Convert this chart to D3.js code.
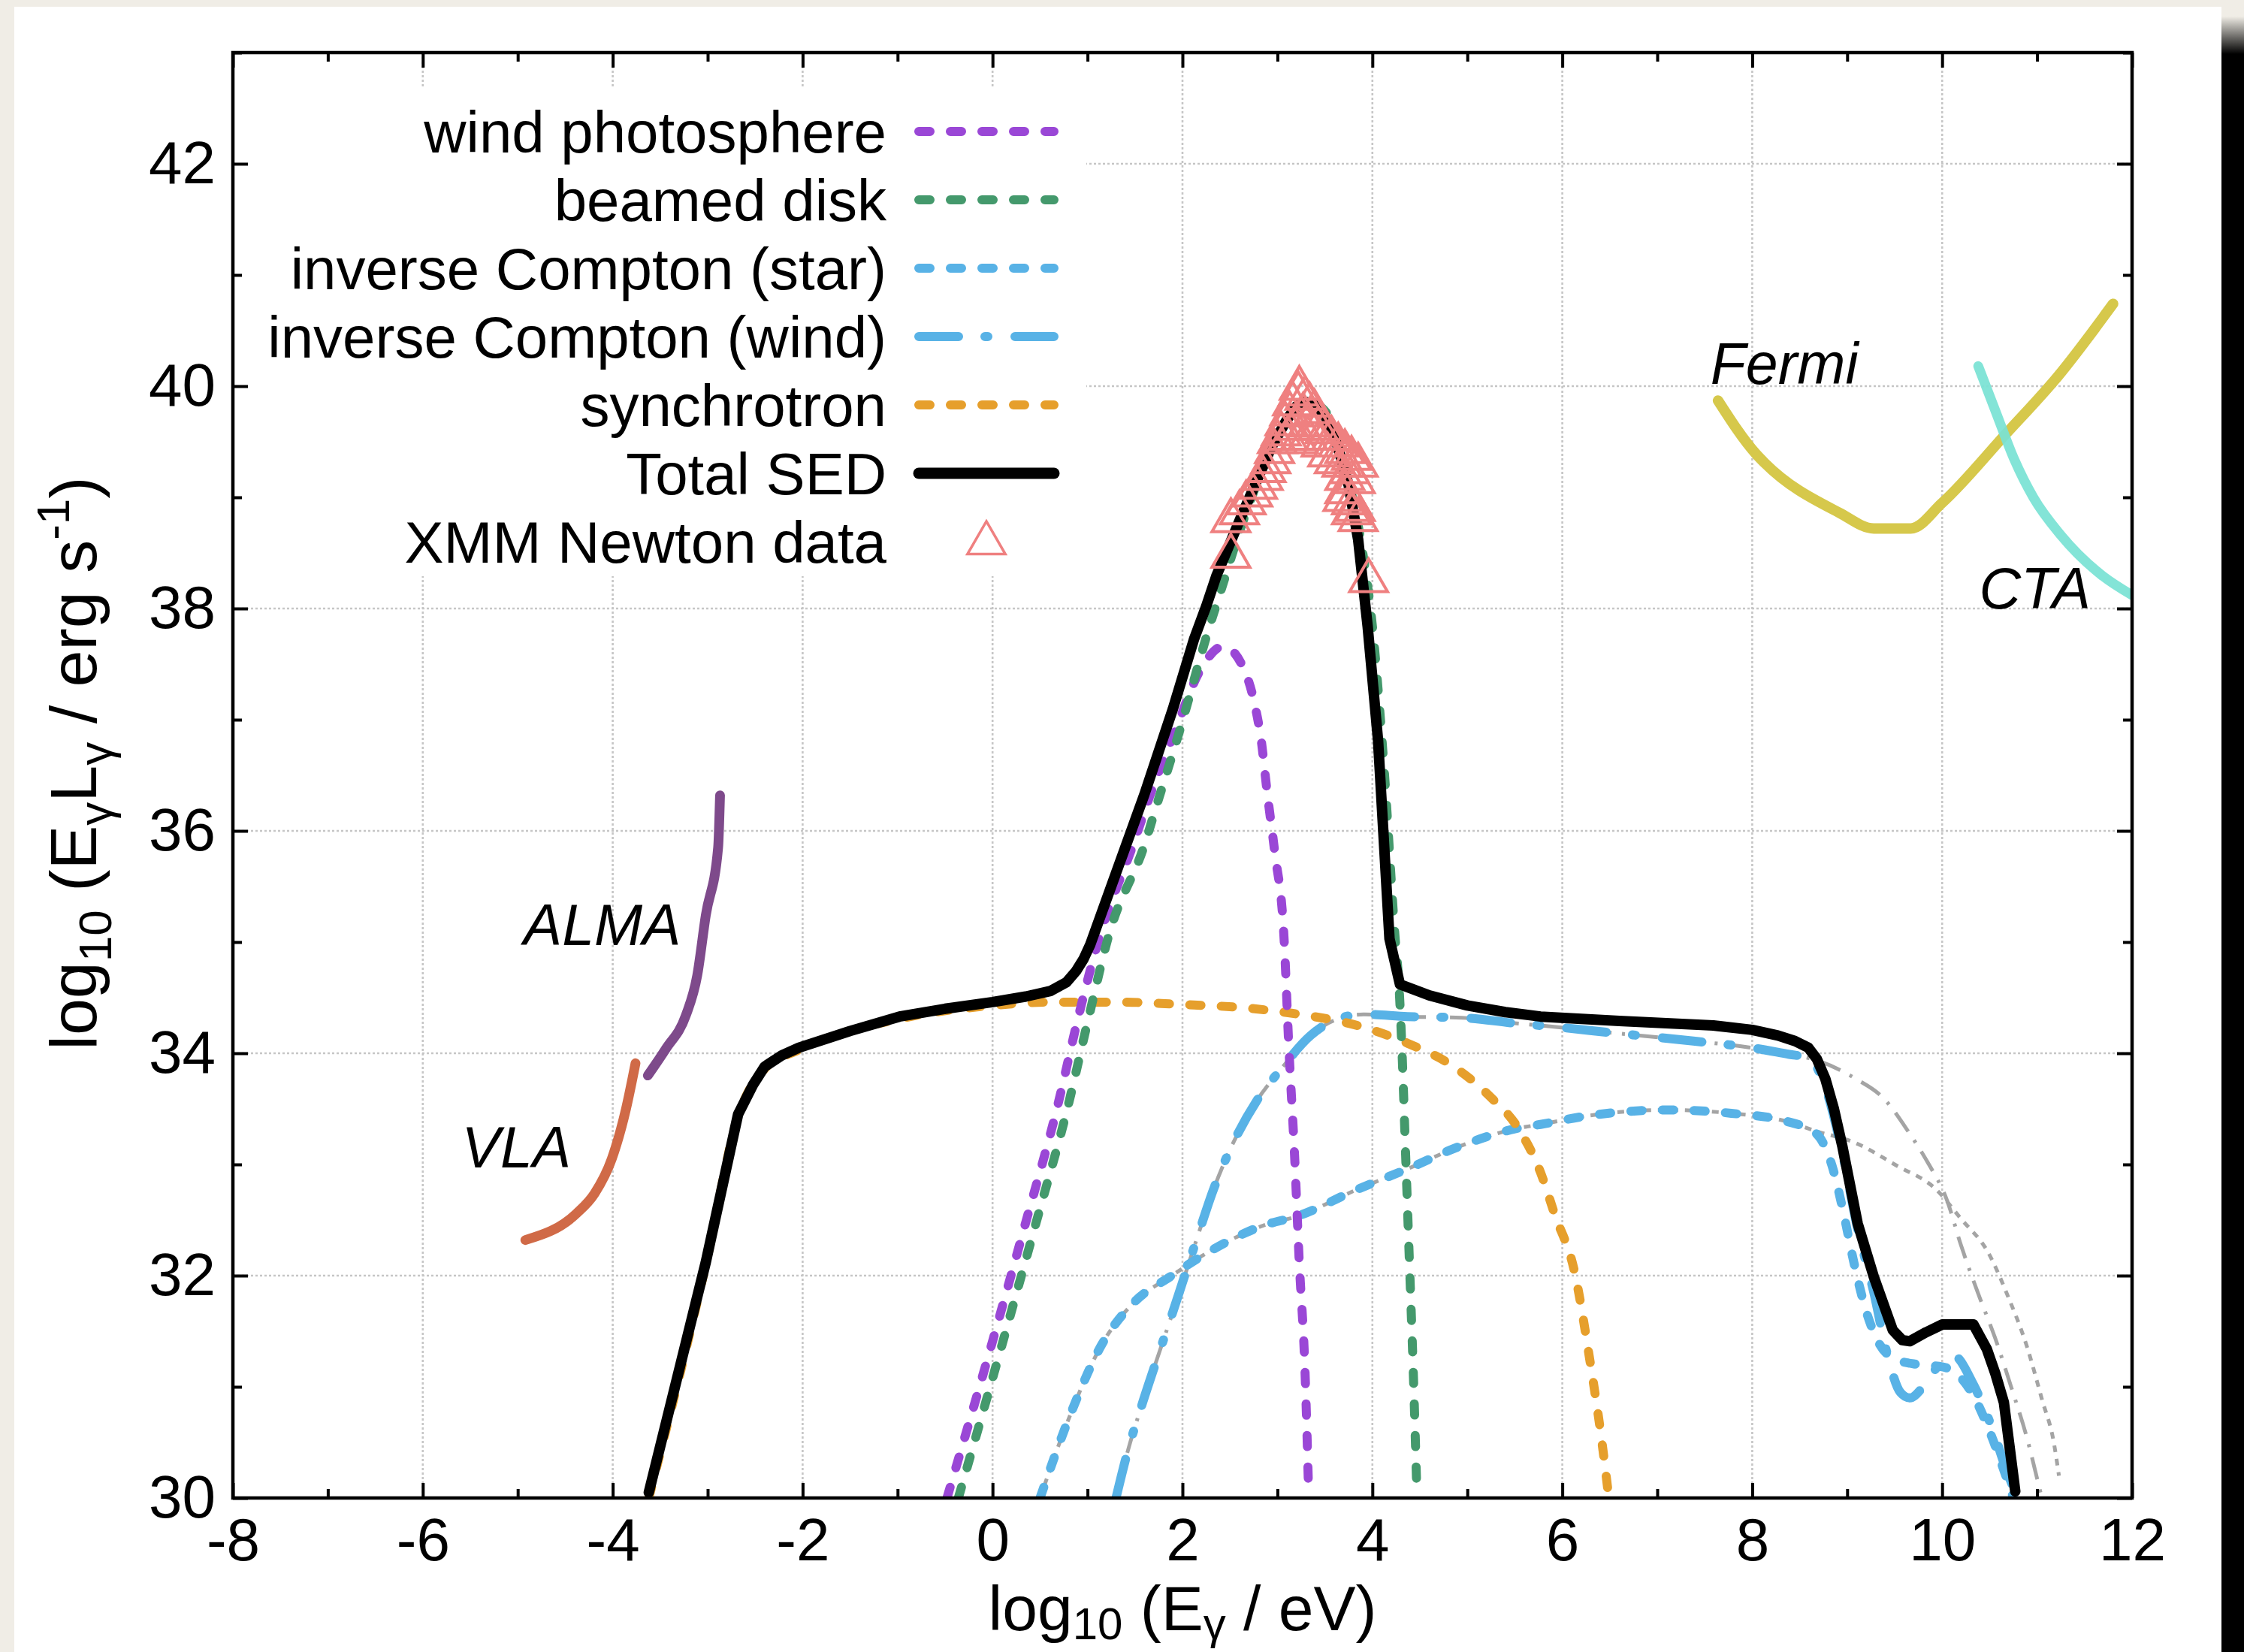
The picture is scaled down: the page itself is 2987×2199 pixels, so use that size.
<!DOCTYPE html>
<html><head><meta charset="utf-8">
<script src="https://cdn.jsdelivr.net/npm/d3@7"></script>
<style>body{margin:0;background:#fff}svg{display:block}</style>
</head><body><svg id="c" width="2987" height="2199"></svg>
<script>
// ---------------- DATA ----------------
const xTicks = [-8,-6,-4,-2,0,2,4,6,8,10,12];
const yTicks = [30,32,34,36,38,40,42];
const xMinor = [-7,-5,-3,-1,1,3,5,7,9,11];
const yMinor = [31,33,35,37,39,41,43];
const xGrid = [-6,-4,-2,0,2,4,6,8,10];
const yGrid = [32,34,36,38,40,42];

const windPhotosphere = [[-0.48,30.0],[0.0,31.41],[0.34,32.45],[0.68,33.51],[0.91,34.35],[1.11,35.0],[1.49,35.90],[1.70,36.42],[1.91,36.87],[2.19,37.45],[2.43,37.66],[2.65,37.45],[2.76,37.14],[2.83,36.81],[2.89,36.36],[2.97,35.82],[3.07,35.03],[3.12,34.06],[3.18,33.09],[3.23,32.12],[3.29,31.15],[3.33,30.0]];
const beamedDisk = [[-0.36,30.0],[0.11,31.41],[0.45,32.45],[0.79,33.51],[1.02,34.35],[1.22,35.05],[1.61,35.90],[1.71,36.18],[1.98,36.93],[2.26,37.77],[2.43,38.23],[2.55,38.56],[2.75,39.05],[3.0,39.55],[3.2,39.8],[3.35,39.85],[3.55,39.72],[3.75,39.15],[3.88,38.6],[4.0,37.84],[4.12,36.6],[4.24,35.03],[4.28,34.61],[4.31,34.06],[4.35,33.09],[4.39,32.12],[4.43,31.15],[4.47,30.0]];
const icStar = [[0.50,30.0],[0.81,30.73],[1.15,31.38],[1.49,31.76],[1.87,31.99],[2.29,32.22],[2.85,32.45],[3.23,32.54],[3.80,32.76],[4.37,32.96],[4.94,33.17],[5.50,33.32],[5.77,33.36],[6.29,33.44],[7.09,33.49],[7.78,33.46],[8.35,33.39],[8.67,33.28],[8.84,32.99],[8.95,32.61],[9.07,32.12],[9.20,31.68],[9.33,31.40],[9.50,31.25],[9.75,31.2],[10.0,31.18],[10.15,31.12],[10.33,30.92],[10.5,30.6],[10.65,30.25],[10.75,30.0]];
const icStarUnabsorbed = [[0.50,30.0],[0.81,30.73],[1.15,31.38],[1.49,31.76],[1.87,31.99],[2.29,32.22],[2.85,32.45],[3.23,32.54],[3.80,32.76],[4.37,32.96],[4.94,33.17],[5.50,33.32],[5.77,33.36],[6.29,33.44],[7.09,33.49],[7.78,33.46],[8.35,33.39],[8.67,33.30],[9.07,33.20],[9.52,32.99],[9.93,32.78],[10.20,32.51],[10.49,32.20],[10.69,31.82],[10.89,31.37],[11.05,30.89],[11.18,30.48],[11.23,30.2]];
const icWind = [[1.30,30.0],[1.42,30.41],[1.57,30.83],[1.72,31.22],[1.87,31.60],[2.02,31.99],[2.17,32.38],[2.32,32.76],[2.51,33.15],[2.78,33.57],[3.04,33.86],[3.35,34.16],[3.61,34.30],[3.91,34.35],[4.37,34.33],[4.94,34.32],[5.50,34.27],[5.77,34.25],[6.57,34.18],[7.38,34.11],[7.99,34.05],[8.39,33.99],[8.59,33.96],[8.76,33.72],[8.95,33.10],[9.11,32.42],[9.28,31.85],[9.42,31.30],[9.56,30.95],[9.66,30.90],[9.80,31.0],[9.97,31.20],[10.12,31.28],[10.33,31.02],[10.53,30.62],[10.69,30.22],[10.80,30.0]];
const icWindUnabsorbed = [[1.30,30.0],[1.42,30.41],[1.57,30.83],[1.72,31.22],[1.87,31.60],[2.02,31.99],[2.17,32.38],[2.32,32.76],[2.51,33.15],[2.78,33.57],[3.04,33.86],[3.35,34.16],[3.61,34.30],[3.91,34.35],[4.37,34.33],[4.94,34.32],[5.50,34.27],[5.77,34.25],[6.57,34.18],[7.38,34.11],[7.99,34.05],[8.39,33.99],[8.67,33.94],[9.07,33.78],[9.40,33.58],[9.64,33.30],[9.84,33.03],[10.05,32.68],[10.20,32.27],[10.37,31.86],[10.57,31.41],[10.73,30.99],[10.89,30.55],[11.01,30.14],[11.05,30.0]];
const synchrotron = [[-3.62,30.0],[-3.02,32.1],[-2.68,33.43],[-2.40,33.86],[-2.04,34.03],[-0.98,34.31],[0.0,34.43],[0.62,34.46],[1.34,34.46],[1.95,34.44],[2.63,34.41],[3.23,34.35],[3.84,34.25],[4.37,34.09],[4.82,33.90],[5.24,33.61],[5.54,33.32],[5.77,32.93],[5.92,32.55],[6.13,32.03],[6.29,31.24],[6.41,30.55],[6.49,30.0]];
const totalSED = [[-3.62,30.05],[-3.02,32.12],[-2.68,33.45],[-2.52,33.72],[-2.40,33.88],[-2.22,33.98],[-2.04,34.05],[-1.5,34.2],[-0.98,34.33],[-0.5,34.40],[0.0,34.46],[0.35,34.51],[0.61,34.56],[0.78,34.64],[0.88,34.74],[0.96,34.85],[1.03,34.98],[1.3,35.62],[1.6,36.33],[1.9,37.10],[2.12,37.72],[2.25,38.02],[2.36,38.30],[2.62,38.83],[2.93,39.44],[3.10,39.70],[3.20,39.82],[3.29,39.86],[3.40,39.83],[3.50,39.74],[3.62,39.50],[3.75,39.11],[3.85,38.62],[3.95,37.84],[4.06,36.81],[4.18,35.03],[4.29,34.62],[4.6,34.52],[5.0,34.43],[5.4,34.37],[5.77,34.33],[6.6,34.29],[7.59,34.25],[8.0,34.21],[8.27,34.16],[8.45,34.11],[8.59,34.05],[8.68,33.95],[8.77,33.77],[8.86,33.50],[8.95,33.16],[9.11,32.47],[9.28,31.99],[9.48,31.51],[9.58,31.42],[9.66,31.41],[9.83,31.49],[10.0,31.56],[10.33,31.56],[10.47,31.34],[10.56,31.12],[10.65,30.86],[10.77,30.06]];
const xmmData = [[2.51,38.47],[2.51,38.79],[2.60,38.86],[2.67,38.95],[2.74,39.02],[2.79,39.09],[2.85,39.17],[2.88,39.24],[2.93,39.32],[2.97,39.41],[3.00,39.50],[3.04,39.57],[3.08,39.66],[3.13,39.75],[3.16,39.84],[3.22,39.93],[3.23,39.98],[3.29,39.89],[3.34,39.83],[3.39,39.77],[3.27,39.74],[3.32,39.65],[3.18,39.62],[3.11,39.53],[3.22,39.50],[3.32,39.53],[3.43,39.62],[3.50,39.59],[3.57,39.53],[3.64,39.47],[3.71,39.41],[3.46,39.47],[3.53,39.38],[3.60,39.32],[3.68,39.29],[3.78,39.35],[3.85,39.29],[3.76,39.23],[3.71,39.17],[3.82,39.14],[3.69,38.98],[3.71,39.05],[3.78,38.95],[3.82,38.89],[3.85,38.80],[3.78,38.86],[3.96,38.25]];
const fermi = [[7.64,39.87],[8.04,39.39],[8.13,39.31],[8.92,38.86],[9.28,38.72],[9.67,38.72],[10.0,38.95],[10.66,39.56],[11.22,40.09],[11.80,40.74]];
const cta = [[10.38,40.18],[10.56,39.78],[10.76,39.34],[10.96,39.0],[11.25,38.66],[11.68,38.30],[12.0,38.12]];
const alma = [[-3.63,33.80],[-3.44,34.04],[-3.23,34.34],[-3.11,34.70],[-3.02,35.24],[-2.89,35.85],[-2.87,36.32]];
const vla = [[-4.92,32.32],[-4.38,32.56],[-4.19,32.74],[-4.01,33.05],[-3.86,33.50],[-3.76,33.91]];
const instrumentLabels = [{text:"Fermi",x:7.56,y:40.02},{text:"CTA",x:10.39,y:38.0},{text:"ALMA",x:-4.94,y:34.97},{text:"VLA",x:-5.59,y:32.97}];
const legendLabels = ["wind photosphere","beamed disk","inverse Compton (star)","inverse Compton (wind)","synchrotron","Total SED","XMM Newton data"];

// ---------------- STYLE / LAYOUT ----------------
const FONT = "'Liberation Sans', Arial, Helvetica, sans-serif";
const C = {purple:"#9a47d6", green:"#44996c", blue:"#58b2e6", orange:"#e69f2c", gray:"#a4a4a4",
           xmm:"#ef8080", fermi:"#d6c84b", cta:"#78e2d4", alma:"#7e4a8b", vla:"#d06a47"};
const DOT = "15 27", DASHDOT = "53 35 4 36";

const svg = d3.select("#c");
const x = d3.scaleLinear().domain([-8,12]).range([310,2838]);
const y = d3.scaleLinear().domain([30,43]).range([1994,70]);

// page frame
const defs = svg.append("defs");
const g1 = defs.append("linearGradient").attr("id","barg").attr("x1",0).attr("y1",0).attr("x2",0).attr("y2",1);
g1.append("stop").attr("offset","0%").attr("stop-color","#efece5");
g1.append("stop").attr("offset","100%").attr("stop-color","#000");
defs.append("clipPath").attr("id","plotclip").append("rect")
  .attr("x",x(-8)).attr("y",y(43)).attr("width",x(12)-x(-8)).attr("height",y(30)-y(43));
svg.append("rect").attr("width",2987).attr("height",2199).attr("fill","#f0ede6");
svg.append("rect").attr("x",19).attr("y",9).attr("width",2938).attr("height",2190).attr("fill","#fff");
svg.append("rect").attr("x",2957).attr("y",22).attr("width",30).attr("height",50).attr("fill","url(#barg)");
svg.append("rect").attr("x",2957).attr("y",72).attr("width",30).attr("height",2127).attr("fill","#000");

// grid
const grid = svg.append("g").attr("stroke","#c6c6c6").attr("stroke-width",2.6).attr("stroke-dasharray","3 3");
grid.selectAll("line.gx").data(xGrid).join("line").attr("class","gx")
  .attr("x1",d=>x(d)).attr("x2",d=>x(d)).attr("y1",y(43)).attr("y2",y(30));
grid.selectAll("line.gy").data(yGrid).join("line").attr("class","gy")
  .attr("y1",d=>y(d)).attr("y2",d=>y(d)).attr("x1",x(-8)).attr("x2",x(12));

// opaque key box
svg.append("rect").attr("x",313).attr("y",118).attr("width",1133).attr("height",649).attr("fill","#fff");

// curves
const line = d3.line().x(d=>x(d[0])).y(d=>y(d[1])).curve(d3.curveMonotoneX);
const lineLin = d3.line().x(d=>x(d[0])).y(d=>y(d[1]));
const plot = svg.append("g").attr("clip-path","url(#plotclip)");
function curve(data, color, width, dash, cap, gen){
  plot.append("path").datum(data).attr("d",gen||line).attr("fill","none")
    .attr("stroke",color).attr("stroke-width",width)
    .attr("stroke-dasharray",dash||null).attr("stroke-linecap",cap||"round").attr("stroke-linejoin","round");
}
curve(icWindUnabsorbed, C.gray, 5, "30 14 4 14", "butt");
curve(icStarUnabsorbed, C.gray, 5, "9 9", "butt");
curve(icStar, C.blue, 12, DOT);
curve(icWind, C.blue, 12, DASHDOT);
curve(synchrotron, C.orange, 12, DOT);
curve(windPhotosphere, C.purple, 12, DOT);
curve(beamedDisk, C.green, 12, DOT);
curve(totalSED, "#000", 14, null, "round", lineLin);
curve(fermi, C.fermi, 14, null);
plot.append("path").datum(cta).attr("d",line).attr("fill","none").attr("stroke",C.cta)
  .attr("stroke-width",13).attr("stroke-linecap","round").attr("opacity",0.92);
curve(alma, C.alma, 13, null);
curve(vla, C.vla, 13, null);

const tri = d3.symbol().type(d3.symbolTriangle).size(1100);
plot.append("g").selectAll("path").data(xmmData).join("path")
  .attr("d",tri).attr("transform",d=>`translate(${x(d[0])},${y(d[1])})`)
  .attr("fill","none").attr("stroke",C.xmm).attr("stroke-width",4);

// instrument labels
svg.append("g").selectAll("text").data(instrumentLabels).join("text")
  .attr("x",d=>x(d.x)).attr("y",d=>y(d.y)).text(d=>d.text)
  .attr("font-family",FONT).attr("font-size",77).attr("font-style","italic").attr("fill","#000");

// axes
function styleAxis(g){ g.select(".domain").remove(); g.selectAll("line").attr("stroke","#000").attr("stroke-width",4);
  g.attr("font-family",FONT).attr("font-size",80); g.selectAll("text").attr("fill","#000"); }
const fmt = d=>String(d);
svg.append("g").attr("transform",`translate(0,${y(30)})`).call(d3.axisBottom(x).tickValues(xTicks).tickSize(-20).tickPadding(26).tickFormat(fmt)).call(styleAxis);
svg.append("g").attr("transform",`translate(0,${y(30)})`).call(d3.axisBottom(x).tickValues(xMinor).tickSize(-12).tickFormat("")).call(styleAxis);
svg.append("g").attr("transform",`translate(0,${y(43)})`).call(d3.axisTop(x).tickValues(xTicks).tickSize(-20).tickFormat("")).call(styleAxis);
svg.append("g").attr("transform",`translate(0,${y(43)})`).call(d3.axisTop(x).tickValues(xMinor).tickSize(-12).tickFormat("")).call(styleAxis);
svg.append("g").attr("transform",`translate(${x(-8)},0)`).call(d3.axisLeft(y).tickValues(yTicks).tickSize(-20).tickPadding(23).tickFormat(fmt)).call(styleAxis);
svg.append("g").attr("transform",`translate(${x(-8)},0)`).call(d3.axisLeft(y).tickValues(yMinor).tickSize(-12).tickFormat("")).call(styleAxis);
svg.append("g").attr("transform",`translate(${x(12)},0)`).call(d3.axisRight(y).tickValues(yTicks).tickSize(-20).tickFormat("")).call(styleAxis);
svg.append("g").attr("transform",`translate(${x(12)},0)`).call(d3.axisRight(y).tickValues(yMinor).tickSize(-12).tickFormat("")).call(styleAxis);
svg.append("rect").attr("x",x(-8)).attr("y",y(43)).attr("width",x(12)-x(-8)).attr("height",y(30)-y(43))
  .attr("fill","none").attr("stroke","#000").attr("stroke-width",4.5);

// legend
const legStyles = [
  {color:C.purple,w:12,dash:DOT},{color:C.green,w:12,dash:DOT},{color:C.blue,w:12,dash:DOT},
  {color:C.blue,w:12,dash:DASHDOT},{color:C.orange,w:12,dash:DOT},{color:"#000",w:15,dash:null},{tri:true}];
const leg = svg.append("g");
legendLabels.forEach((lab,i)=>{
  const cy = 175 + i*91;
  leg.append("text").attr("x",1180).attr("y",cy+28).attr("text-anchor","end")
    .attr("font-family",FONT).attr("font-size",78).attr("fill","#000").text(lab);
  const s = legStyles[i];
  if (s.tri) {
    leg.append("path").attr("d",tri).attr("transform",`translate(1313,${cy+2})`)
      .attr("fill","none").attr("stroke",C.xmm).attr("stroke-width",3.5);
  } else {
    leg.append("line").attr("x1",1223).attr("x2",1403).attr("y1",cy).attr("y2",cy)
      .attr("stroke",s.color).attr("stroke-width",s.w).attr("stroke-linecap","round")
      .attr("stroke-dasharray",s.dash);
  }
});

// axis titles
const xl = svg.append("text").attr("x",(x(-8)+x(12))/2).attr("y",2170).attr("text-anchor","middle")
  .attr("font-family",FONT).attr("font-size",84).attr("fill","#000");
xl.append("tspan").text("log");
xl.append("tspan").attr("font-size",60).attr("dy",12).text("10");
xl.append("tspan").attr("dy",-12).text(" (E");
xl.append("tspan").attr("font-size",60).attr("dy",12).text("γ");
xl.append("tspan").attr("dy",-12).text(" / eV)");

const yl = svg.append("text").attr("transform","translate(128,1016) rotate(-90)").attr("text-anchor","middle")
  .attr("font-family",FONT).attr("font-size",88).attr("fill","#000");
yl.append("tspan").text("log");
yl.append("tspan").attr("font-size",62).attr("dy",20).text("10");
yl.append("tspan").attr("dy",-20).text(" (E");
yl.append("tspan").attr("font-size",62).attr("dy",20).text("γ");
yl.append("tspan").attr("dy",-20).text("L");
yl.append("tspan").attr("font-size",62).attr("dy",20).text("γ");
yl.append("tspan").attr("dy",-20).text(" / erg s");
yl.append("tspan").attr("font-size",62).attr("dy",-36).text("-1");
yl.append("tspan").attr("dy",36).text(")");
</script></body></html>
